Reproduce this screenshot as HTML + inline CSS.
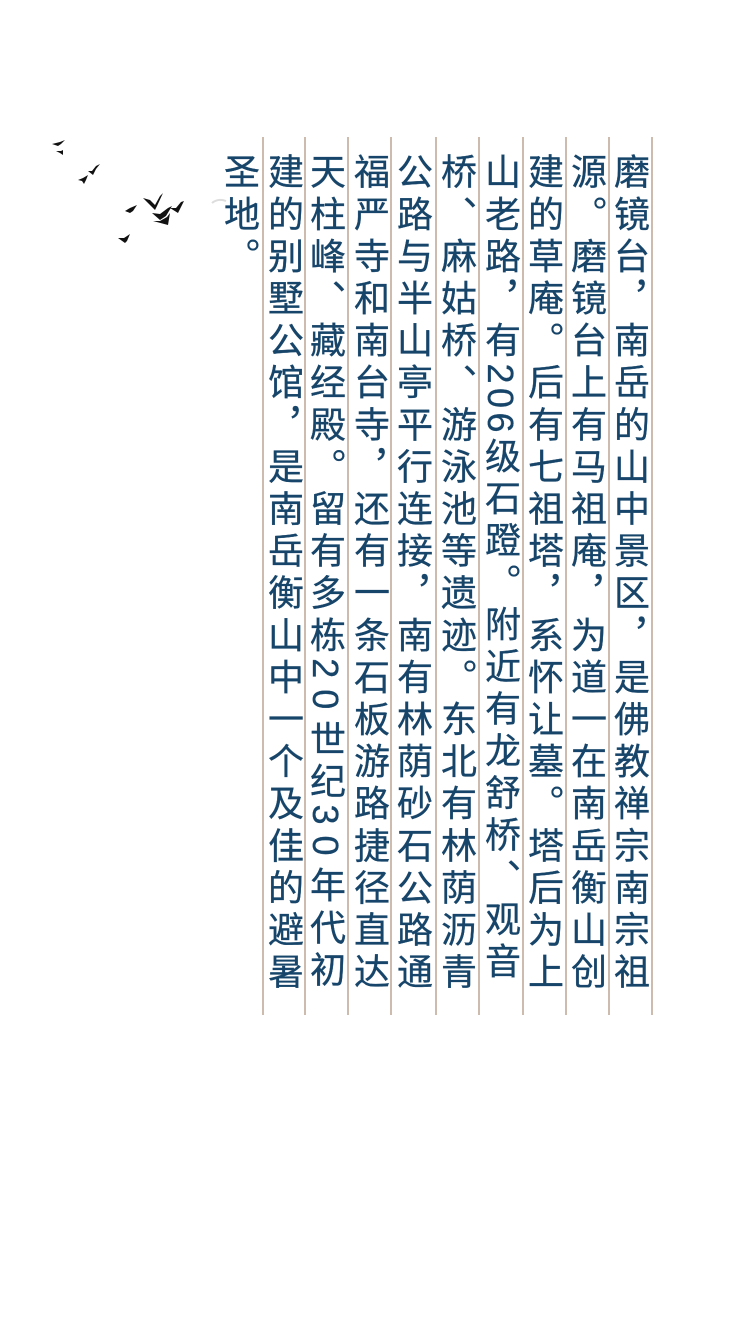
<!DOCTYPE html>
<html><head><meta charset="utf-8"><style>
html,body{margin:0;padding:0;background:#fff;width:750px;height:1334px;overflow:hidden;position:relative}
.l{position:absolute;top:137px;width:2px;height:878px;background:#cdbcae}
.c{position:absolute;top:153px;width:40px;writing-mode:vertical-rl;font-family:"Liberation Sans","Noto Sans CJK SC",sans-serif;font-size:36px;line-height:40px;letter-spacing:6.1px;color:#17456a;-webkit-text-stroke:0.3px #17456a;white-space:nowrap}
.d{letter-spacing:11px}
.e{letter-spacing:4.5px}
</style></head><body>
<div class="l" style="left:262px"></div>
<div class="l" style="left:304px"></div>
<div class="l" style="left:347px"></div>
<div class="l" style="left:390px"></div>
<div class="l" style="left:435px"></div>
<div class="l" style="left:478px"></div>
<div class="l" style="left:522px"></div>
<div class="l" style="left:565px"></div>
<div class="l" style="left:608px"></div>
<div class="l" style="left:651px"></div>
<div class="c" style="left:609px">磨镜台，南岳的山中景区，是佛教禅宗南宗祖</div>
<div class="c" style="left:566px">源。磨镜台上有马祖庵，为道一在南岳衡山创</div>
<div class="c" style="left:523px">建的草庵。后有七祖塔，系怀让墓。塔后为上</div>
<div class="c" style="left:480px">山老路，有<span class="e">206</span>级石蹬。附近有龙舒桥、观音</div>
<div class="c" style="left:436px">桥、麻姑桥、游泳池等遗迹。东北有林荫沥青</div>
<div class="c" style="left:392px">公路与半山亭平行连接，南有林荫砂石公路通</div>
<div class="c" style="left:349px">福严寺和南台寺，还有一条石板游路捷径直达</div>
<div class="c" style="left:305px">天柱峰、藏经殿。留有多栋<span class="d">20</span>世纪<span class="d">30</span>年代初</div>
<div class="c" style="left:263px">建的别墅公馆，是南岳衡山中一个及佳的避暑</div>
<div class="c" style="left:219px">圣地。</div>
<svg style="position:absolute;left:0;top:0" width="750" height="400">
<g fill="#111">
<path d="M52,144 L60,142 L65,140 L61,144 L58,146 Z"/>
<path d="M56,151 L61,151 L63,150 L63,155 L60,153 Z"/>
<path d="M88,171 L92,171 L96,166 L100,164 L96,169 L93,175 Z"/>
<path d="M78,180 L83,178 L88,175 L86,180 L84,184 L82,181 Z"/>
<path d="M143,198 L150,200 L155,205 L160,196 L163,193 L157,206 L155,210 Z"/>
<path d="M125,211 L130,208 L137,205 L133,211 L130,213 Z"/>
<path d="M152,213 L160,214 L168,208 L172,206 L166,216 L160,220 Z"/>
<path d="M170,208 L176,208 L181,202 L184,201 L178,213 Z"/>
<path d="M153,221 L160,221 L167,217 L170,213 L168,225 Z"/>
<path d="M118,238 L124,238 L130,234 L127,241 L125,243 Z"/>
</g>
<path d="M212,203 Q218,198 226,201" stroke="#ddd" stroke-width="2" fill="none"/>
</svg>
</body></html>
